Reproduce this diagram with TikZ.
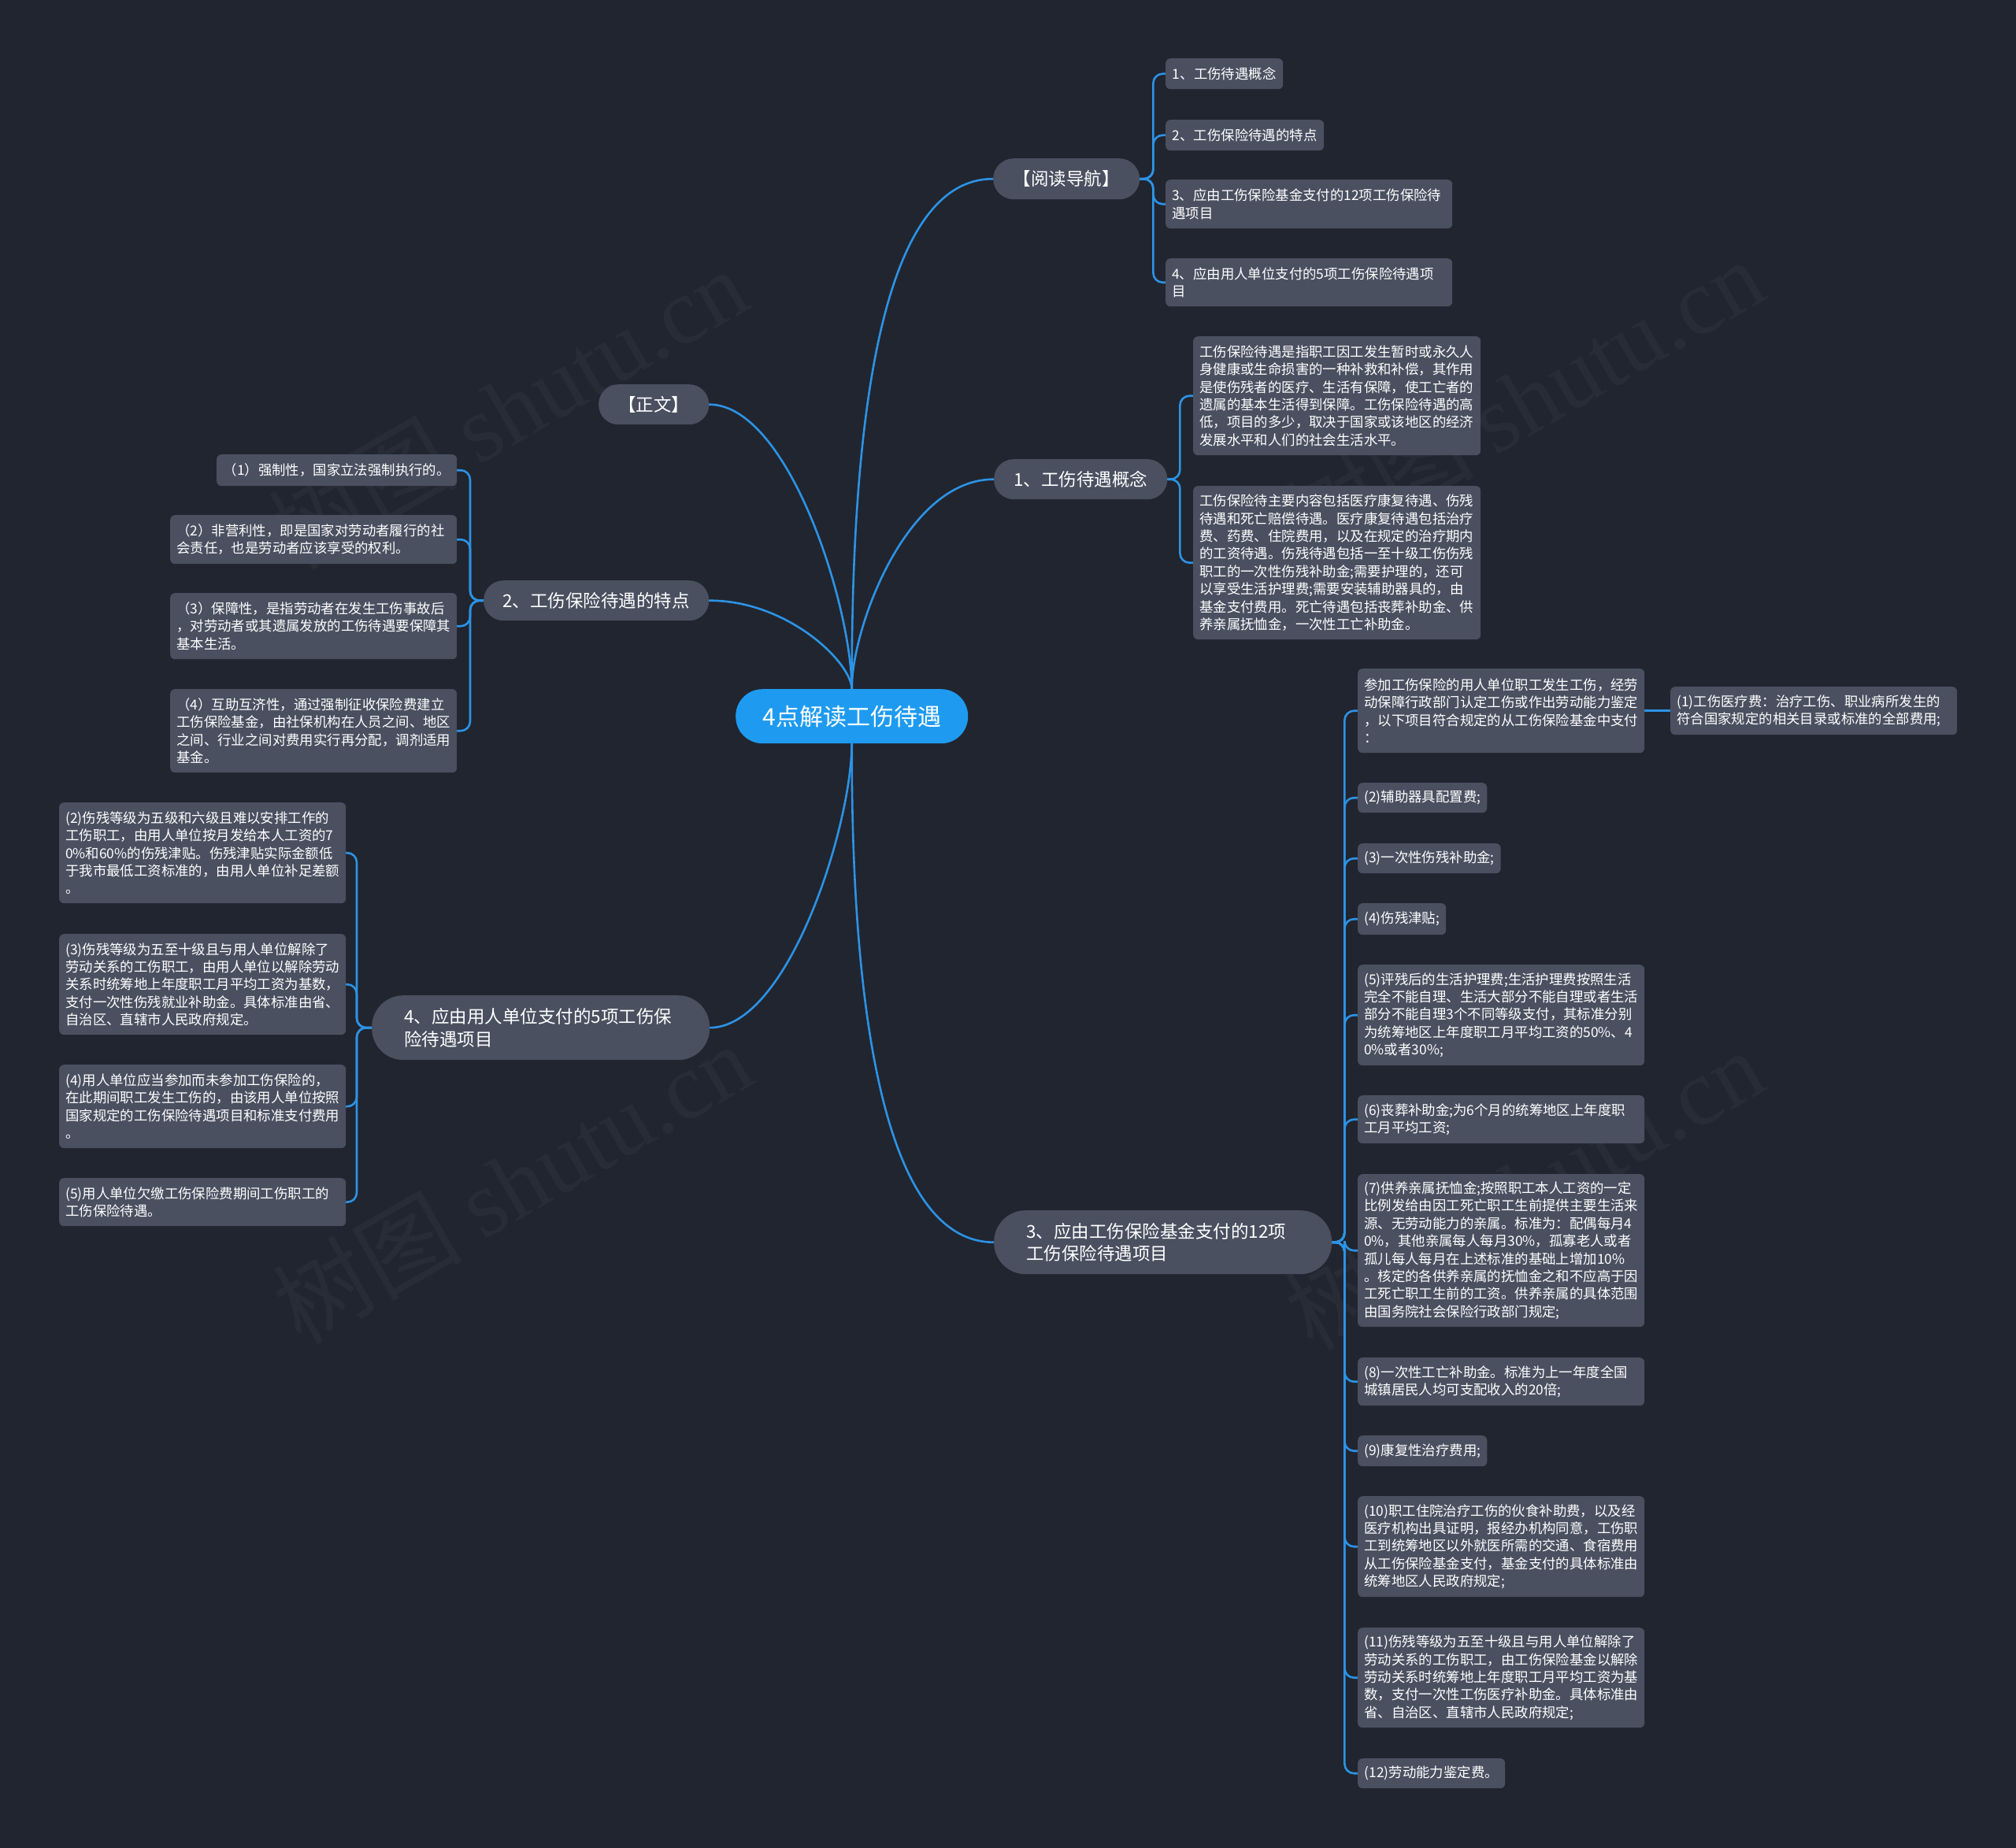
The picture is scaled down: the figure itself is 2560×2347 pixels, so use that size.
\documentclass[tikz,border=0pt]{standalone}
\usepackage{fontspec}
\setmainfont{Noto Sans CJK SC}
\newfontfamily\wmlatin{Liberation Serif}
\usetikzlibrary{backgrounds}
\definecolor{bgc}{HTML}{21252F}
\definecolor{nodefill}{HTML}{4A5060}
\definecolor{linec}{HTML}{2C93E6}
\definecolor{centerfill}{HTML}{1E9BF0}
\definecolor{wmc}{HTML}{282C37}
\begin{document}
\begin{tikzpicture}[x=1pt,y=-1pt,
  conn/.style={draw=linec, line width=2.6pt, line cap=round},
  bracket/.style={conn, rounded corners=12pt},
  leaf/.style={fill=nodefill, rounded corners=6pt, text=white, anchor=north west,
    inner xsep=8pt, inner ysep=0pt, align=left, font=\fontsize{17.4}{22.4}\selectfont},
  wide/.style={leaf, text width=348pt},
  branch/.style={fill=nodefill, rounded corners=25pt, text=white, anchor=north west,
    inner sep=0pt, align=center, font=\fontsize{22.5}{28.5}\selectfont},
  branchtwo/.style={branch, rounded corners=40pt, align=left, text width=347pt,
    minimum width=429pt},
  wmark/.style={text=wmc, rotate=30, font=\fontsize{120}{130}\selectfont, inner sep=0pt}
]
\useasboundingbox (0,0) rectangle (2560,2347);

% ---------- centre ----------
\node[fill=centerfill, rounded corners=34pt, minimum width=295pt, minimum height=69pt,
  text=white, font=\fontsize{30}{36}\selectfont, anchor=north west, inner sep=0pt]
  (C) at (934,875) {4点解读工伤待遇};

% ---------- main branches ----------
\node[branch, minimum width=186pt, minimum height=52pt, rounded corners=26pt] (B0) at (1261,201) {【阅读导航】};
\node[branch, minimum width=140pt, minimum height=51pt] (BZ) at (760,488) {【正文】};
\node[branch, minimum width=220pt, minimum height=51pt] (B1) at (1262,583) {1、工伤待遇概念};
\node[branch, minimum width=286pt, minimum height=51pt] (B2) at (614,737) {2、工伤保险待遇的特点};
\node[branchtwo, minimum height=81pt] (B3) at (1262,1537) {3、应由工伤保险基金支付的12项\\工伤保险待遇项目};
\node[branchtwo, minimum height=82pt] (B4) at (472,1264) {4、应由用人单位支付的5项工伤保\\险待遇项目};

% ---------- 阅读导航 children ----------
\node[leaf, minimum width=149pt, minimum height=39pt] (N1) at (1480,74) {1、工伤待遇概念};
\node[leaf, minimum width=201pt, minimum height=39pt] (N2) at (1480,152) {2、工伤保险待遇的特点};
\node[wide, minimum height=62pt] (N3) at (1480,228) {3、应由工伤保险基金支付的12项工伤保险待\\遇项目};
\node[wide, minimum height=61pt] (N4) at (1480,328) {4、应由用人单位支付的5项工伤保险待遇项\\目};

% ---------- 1 children ----------
\node[wide, text width=349pt, minimum height=151pt] (K1) at (1515,427) {工伤保险待遇是指职工因工发生暂时或永久人\\身健康或生命损害的一种补救和补偿，其作用\\是使伤残者的医疗、生活有保障，使工亡者的\\遗属的基本生活得到保障。工伤保险待遇的高\\低，项目的多少，取决于国家或该地区的经济\\发展水平和人们的社会生活水平。};
\node[wide, text width=349pt, minimum height=195pt] (K2) at (1515,617) {工伤保险待主要内容包括医疗康复待遇、伤残\\待遇和死亡赔偿待遇。医疗康复待遇包括治疗\\费、药费、住院费用，以及在规定的治疗期内\\的工资待遇。伤残待遇包括一至十级工伤伤残\\职工的一次性伤残补助金;需要护理的，还可\\以享受生活护理费;需要安装辅助器具的，由\\基金支付费用。死亡待遇包括丧葬补助金、供\\养亲属抚恤金，一次性工亡补助金。};

% ---------- 2 children ----------
\node[leaf, minimum width=305pt, minimum height=40pt] (F1) at (275,577) {（1）强制性，国家立法强制执行的。};
\node[wide, minimum height=62pt] (F2) at (216,654) {（2）非营利性，即是国家对劳动者履行的社\\会责任，也是劳动者应该享受的权利。};
\node[wide, minimum height=84pt] (F3) at (216,753) {（3）保障性，是指劳动者在发生工伤事故后\\，对劳动者或其遗属发放的工伤待遇要保障其\\基本生活。};
\node[wide, minimum height=106pt] (F4) at (216,875) {（4）互助互济性，通过强制征收保险费建立\\工伤保险基金，由社保机构在人员之间、地区\\之间、行业之间对费用实行再分配，调剂适用\\基金。};

% ---------- 4 children ----------
\node[wide, minimum height=128pt] (E2) at (75,1019) {(2)伤残等级为五级和六级且难以安排工作的\\工伤职工，由用人单位按月发给本人工资的7\\0\%和60\%的伤残津贴。伤残津贴实际金额低\\于我市最低工资标准的，由用人单位补足差额\\。};
\node[wide, minimum height=128pt] (E3) at (75,1186) {(3)伤残等级为五至十级且与用人单位解除了\\劳动关系的工伤职工，由用人单位以解除劳动\\关系时统筹地上年度职工月平均工资为基数，\\支付一次性伤残就业补助金。具体标准由省、\\自治区、直辖市人民政府规定。};
\node[wide, minimum height=106pt] (E4) at (75,1352) {(4)用人单位应当参加而未参加工伤保险的，\\在此期间职工发生工伤的，由该用人单位按照\\国家规定的工伤保险待遇项目和标准支付费用\\。};
\node[wide, minimum height=61pt] (E5) at (75,1496) {(5)用人单位欠缴工伤保险费期间工伤职工的\\工伤保险待遇。};

% ---------- 3 children ----------
\node[wide, minimum height=107pt] (G0) at (1724,849) {参加工伤保险的用人单位职工发生工伤，经劳\\动保障行政部门认定工伤或作出劳动能力鉴定\\，以下项目符合规定的从工伤保险基金中支付\\：};
\node[wide, minimum height=61pt] (G1) at (2121,872) {(1)工伤医疗费：治疗工伤、职业病所发生的\\符合国家规定的相关目录或标准的全部费用;};
\node[leaf, minimum width=164pt, minimum height=38pt] (G2) at (1724,994) {(2)辅助器具配置费;};
\node[leaf, minimum width=181pt, minimum height=38pt] (G3) at (1724,1071) {(3)一次性伤残补助金;};
\node[leaf, minimum width=112pt, minimum height=40pt] (G4) at (1724,1147) {(4)伤残津贴;};
\node[wide, minimum height=128pt] (G5) at (1724,1225) {(5)评残后的生活护理费;生活护理费按照生活\\完全不能自理、生活大部分不能自理或者生活\\部分不能自理3个不同等级支付，其标准分别\\为统筹地区上年度职工月平均工资的50\%、4\\0\%或者30\%;};
\node[wide, minimum height=61pt] (G6) at (1724,1391) {(6)丧葬补助金;为6个月的统筹地区上年度职\\工月平均工资;};
\node[wide, minimum height=194pt] (G7) at (1724,1491) {(7)供养亲属抚恤金;按照职工本人工资的一定\\比例发给由因工死亡职工生前提供主要生活来\\源、无劳动能力的亲属。标准为：配偶每月4\\0\%，其他亲属每人每月30\%，孤寡老人或者\\孤儿每人每月在上述标准的基础上增加10\%\\。核定的各供养亲属的抚恤金之和不应高于因\\工死亡职工生前的工资。供养亲属的具体范围\\由国务院社会保险行政部门规定;};
\node[wide, minimum height=61pt] (G8) at (1724,1724) {(8)一次性工亡补助金。标准为上一年度全国\\城镇居民人均可支配收入的20倍;};
\node[leaf, minimum width=164pt, minimum height=39pt] (G9) at (1724,1823) {(9)康复性治疗费用;};
\node[wide, minimum height=128pt] (G10) at (1724,1900) {(10)职工住院治疗工伤的伙食补助费，以及经\\医疗机构出具证明，报经办机构同意，工伤职\\工到统筹地区以外就医所需的交通、食宿费用\\从工伤保险基金支付，基金支付的具体标准由\\统筹地区人民政府规定;};
\node[wide, minimum height=127pt] (G11) at (1724,2067) {(11)伤残等级为五至十级且与用人单位解除了\\劳动关系的工伤职工，由工伤保险基金以解除\\劳动关系时统筹地上年度职工月平均工资为基\\数，支付一次性工伤医疗补助金。具体标准由\\省、自治区、直辖市人民政府规定;};
\node[leaf, minimum width=187pt, minimum height=38pt] (G12) at (1724,2233) {(12)劳动能力鉴定费。};

\begin{scope}[on background layer]
  \fill[bgc] (0,0) rectangle (2560,2347);
  % watermarks
  \node[wmark] (W1) at (644,518) {树图 {\wmlatin shutu.cn}};
  \node[wmark] (W2) at (1935,506) {树图 {\wmlatin shutu.cn}};
  \node[wmark] (W3) at (650,1502) {树图 {\wmlatin shutu.cn}};
  \node[wmark] (W4) at (1935,1510) {树图 {\wmlatin shutu.cn}};

  % centre to main branches
  \draw[conn] (C.north) .. controls (1081,550) and (1115,227) .. (B0.west);
  \draw[conn] (C.north) .. controls (1081,800) and (1150,608.5) .. (B1.west);
  \draw[conn] (C.north) .. controls (1081,766) and (1000,513.5) .. (BZ.east);
  \draw[conn] (C.north) .. controls (1081,841) and (1000,762.5) .. (B2.east);
  \draw[conn] (C.south) .. controls (1081,1052) and (1000,1305) .. (B4.east);
  \draw[conn] (C.south) .. controls (1081,1261) and (1117,1577.5) .. (B3.west);

  % 阅读导航 bracket
  \foreach \n in {N1,N2,N3,N4}
    \draw[bracket] (B0.east) -- ++(17,0) |- (\n.west);
  % 1 bracket
  \foreach \n in {K1,K2}
    \draw[bracket] (B1.east) -- ++(16,0) |- (\n.west);
  % 2 bracket
  \foreach \n in {F1,F2,F3,F4}
    \draw[bracket] (B2.west) -- ++(-17,0) |- (\n.east);
  % 4 bracket
  \foreach \n in {E2,E3,E4,E5}
    \draw[bracket] (B4.west) -- ++(-19,0) |- (\n.east);
  % 3 bracket
  \foreach \n in {G0,G2,G3,G4,G5,G6,G7,G8,G9,G10,G11,G12}
    \draw[bracket] (B3.east) -- ++(16,0) |- (\n.west);
  \draw[conn] (G0.east) -- (G1.west);
\end{scope}
\end{tikzpicture}
\end{document}
